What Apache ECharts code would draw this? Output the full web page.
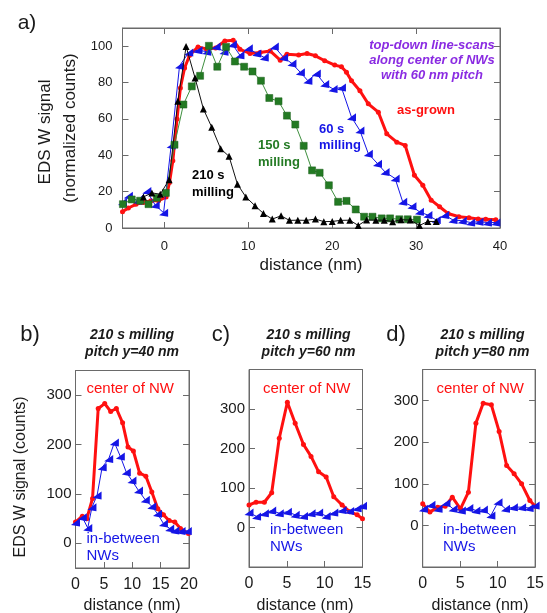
<!DOCTYPE html>
<html><head><meta charset="utf-8">
<script src="https://cdn.jsdelivr.net/npm/echarts@6/dist/echarts.min.js"></script>
<style>html,body{margin:0;padding:0;background:#fff}#c{width:547px;height:613px}</style>
</head><body><div id="c"></div>
<script>
// ---- panel a: normalized W signal vs distance ----
const aAsGrown = [[-5,9],[-4.3,11],[-3.4,13],[-2.5,14],[-1.6,15],[-0.7,15],[0.2,17],[0.6,25],[1.0,37],[1.5,60],[1.9,77],[2.4,88],[3.0,95],[4.0,99.6],[5.0,98.5],[6.1,99],[7.2,102.9],[8.2,103.3],[9.0,98.3],[10.2,96],[11.4,96.5],[12.6,97.4],[13.8,92.3],[14.6,95.6],[16.0,95.2],[17.0,96],[18.0,94.7],[19.1,92],[20.3,89.6],[21.1,88.7],[21.7,85.6],[22.3,81],[23.3,75.5],[24.3,68.3],[25.5,63.7],[26.5,51.8],[27.7,47.2],[28.7,45.4],[29.8,29],[30.8,23.5],[31.8,15.3],[32.8,11.7],[33.8,8],[35.1,6.2],[36.3,5.6],[37.4,5],[38.3,4.8],[39.5,4.5]];
const a60s = [[-5,14],[-4.3,17.7],[-3.2,15],[-2.1,20.3],[-1.1,12.6],[-0.1,8.4],[0.8,45.4],[1.8,89.2],[2.9,96.5],[4.0,97.8],[5.05,97],[6.15,99.8],[7.1,97],[8.1,101],[9.0,95],[10,98.9],[11,96],[11.9,93.8],[13.1,99.8],[14.2,93.8],[15.2,90.5],[16.2,85.6],[17.1,81],[18.1,85],[19.1,79.2],[20.1,76.5],[21.1,77.3],[22.3,60.9],[23.3,53.6],[24.3,40.9],[25.4,35.4],[26.3,30.8],[27.5,27.2],[28.4,14.4],[29.5,12],[30.4,8.9],[31.4,7.1],[32.4,4.4],[33.4,7.1],[34.4,4.4],[35.5,4],[36.5,3],[37.5,3.5],[38.5,3],[39.5,3]];
const a150s = [[-4.95,13.1],[-3.9,15.7],[-2.9,15],[-1.9,13.1],[-0.9,16.6],[0.17,19.3],[1.2,45.8],[2.26,67.9],[3.26,77.9],[4.25,83.7],[5.3,100.2],[6.3,88.7],[7.35,99.6],[8.4,91.6],[9.5,88.7],[10.5,86.1],[11.5,81],[12.5,71.5],[13.6,69.7],[14.6,61.8],[15.6,56.9],[16.6,45.2],[17.6,31.7],[18.5,30.4],[19.6,23.5],[20.7,14.4],[21.7,14.9],[22.8,10.2],[23.8,6.2],[24.8,6.2],[25.9,5.3],[26.9,5.3],[28,4.8],[29,4.8],[30.1,4.6]];
const a210s = [[-2.5,17.1],[-1.5,19.3],[-0.5,18.6],[0.56,26.6],[1.6,69.7],[2.58,99.8],[3.65,82.5],[4.64,65.5],[5.64,55.4],[6.7,43.6],[7.7,39.4],[8.7,24.1],[9.7,17.1],[10.8,12.2],[11.8,8],[12.85,4.9],[13.9,6.7],[14.9,4.2],[15.9,4.3],[16.9,4.2],[18,4.9],[19,3.5],[20,3.6],[21,4.2],[22.1,4.3],[23.1,1.4],[24.1,4.4],[25.2,4.3],[26.2,4.3],[27.2,3.5],[28.2,4.5],[29.3,4.4],[30.4,1.4],[31.4,3.6],[32.4,3.6]];
const aXTicks = [0,10,20,30,40];
const aYTicks = [0,20,40,60,80,100];

// ---- panel b: pitch 40 nm ----
const bCenter = [[0,43],[1.2,55],[2.0,50],[3.0,91],[4.0,273],[5.15,283],[6.2,267],[7.2,273],[8.3,244],[9.25,195],[10.2,187],[11.3,142],[12.4,136],[13.45,104],[14.5,70],[15.5,58],[16.5,46],[17.5,43],[18.5,30],[19.9,20]];
const bBetween = [[0,42],[1.2,53],[2.16,31],[2.9,73],[3.8,97],[4.7,154],[5.85,171],[6.85,204],[7.9,176],[8.95,144],[9.95,127],[11.1,107],[12.3,88],[13.45,75],[14.45,60],[15.5,40],[16.6,30],[17.5,26],[18.6,25],[19.7,25]];
const bXTicks = [0,5,10,15,20];

// ---- panel c: pitch 60 nm ----
const cCenter = [[0,57],[0.93,64],[2.03,64],[3.0,88],[4.0,226],[5.07,317],[6.1,264],[7.2,210],[8.2,180],[9.2,141],[10.2,128],[11.2,78],[12.3,57],[13.3,40],[14.3,32],[15,22]];
const cBetween = [[0,38],[1.0,28],[2.03,36],[3.0,43],[4.0,36],[5.07,40],[6.1,32],[7.2,29],[8.2,36],[9.2,38],[10.2,29],[11.2,38],[12.3,44],[13.3,42],[14.3,49],[15,55]];

// ---- panel d: pitch 80 nm ----
const dCenter = [[0,52],[0.96,32],[2,44],[3,46],[3.95,68],[5.04,40],[6.1,80],[7.1,246],[8.07,294],[9.16,290],[10.2,226],[11.2,144],[12.2,124],[13.2,100],[14.3,60],[15,46]];
const dBetween = [[0.1,40],[1.1,50],[2.05,40],[3.1,54],[4.05,40],[5.15,36],[6.15,42],[7.1,36],[8.1,38],[9.1,24],[10.05,56],[11.05,40],[12.1,44],[13.2,44],[14.2,42],[15,48]];
const cdXTicks = [0,5,10,15];
const countTicks = [0,100,200,300];

const FONT = '"Liberation Sans", Arial, sans-serif';
const AX = '#6a6a6a';
const TXT = '#1a1a1a';
const BLUE = '#1515e6';
const RED = '#ff1010';
const GREEN = '#237a23';
const TRI = 'path://M0,8 L10,0 L10,10 Z';

const grids = [
  {left:122.5, top:28, width:377.5, height:200},
  {left:75.5, top:370.5, width:113.5, height:197.5},
  {left:249, top:369.5, width:113.5, height:197.5},
  {left:422.7, top:369.5, width:114, height:197.5}
];
grids.forEach(g => { g.show = true; g.borderColor = AX; g.borderWidth = 1; g.backgroundColor = 'transparent'; });

function xAx(gi, min, max, ticks, fs, margin, pos, labels) {
  return {type:'value', gridIndex:gi, min:min, max:max, position:pos,
    axisLine:{show:true, onZero:false, lineStyle:{color:AX}},
    axisTick:{show:true, inside:true, length:6, lineStyle:{color:AX}, customValues:ticks},
    axisLabel:{show:labels, customValues:ticks, color:TXT, fontSize:fs, fontFamily:FONT, margin:margin},
    splitLine:{show:false}};
}
function yAx(gi, min, max, ticks, fs, margin, pos, labels) {
  return {type:'value', gridIndex:gi, min:min, max:max, position:pos,
    axisLine:{show:true, onZero:false, lineStyle:{color:AX}},
    axisTick:{show:true, inside:true, length:6, lineStyle:{color:AX}, customValues:ticks},
    axisLabel:{show:labels, customValues:ticks, color:TXT, fontSize:fs, fontFamily:FONT, margin:margin},
    splitLine:{show:false}};
}

const xAxis = [
  xAx(0,-5,40,aXTicks,13,12,'bottom',true),
  xAx(1,0,20,bXTicks,16,9,'bottom',true),
  xAx(2,0,15,cdXTicks,16,9,'bottom',true),
  xAx(3,0,15,cdXTicks,16,9,'bottom',true),
  xAx(0,-5,40,aXTicks,13,12,'top',false)
];
const yAxis = [
  yAx(0,0,110,aYTicks,13,10,'left',true),
  yAx(1,-50,350,countTicks,15,4,'left',true),
  yAx(2,-100,400,countTicks,15,4,'left',true),
  yAx(3,-100,375,countTicks,15,4,'left',true),
  yAx(0,0,110,aYTicks,13,10,'right',false),
  yAx(1,-50,350,countTicks,15,4,'right',false),
  yAx(2,-100,400,countTicks,15,4,'right',false),
  yAx(3,-100,375,countTicks,15,4,'right',false)
];

function redSeries(xi, yi, data, w) {
  return {type:'line', xAxisIndex:xi, yAxisIndex:yi, data:data, symbol:'circle', symbolSize:5,
    lineStyle:{color:RED, width:w}, itemStyle:{color:RED}, z:3, silent:true};
}
function blueSeries(xi, yi, data) {
  return {type:'line', xAxisIndex:xi, yAxisIndex:yi, data:data, symbol:TRI, symbolSize:[9,8],
    lineStyle:{color:BLUE, width:1}, itemStyle:{color:BLUE}, z:4, silent:true};
}

const series = [
  redSeries(0,0,aAsGrown,3),
  blueSeries(0,0,a60s),
  {type:'line', xAxisIndex:0, yAxisIndex:0, data:a150s, symbol:'rect', symbolSize:7,
    lineStyle:{color:'#3f8f3f', width:1}, itemStyle:{color:GREEN, borderColor:'#1b5e1b', borderWidth:0.5}, z:5, silent:true},
  {type:'line', xAxisIndex:0, yAxisIndex:0, data:a210s, symbol:'triangle', symbolSize:7,
    lineStyle:{color:'#111', width:1}, itemStyle:{color:'#000'}, z:6, silent:true},
  redSeries(1,1,bCenter,3),
  blueSeries(1,1,bBetween),
  redSeries(2,2,cCenter,3),
  blueSeries(2,2,cBetween),
  redSeries(3,3,dCenter,3),
  blueSeries(3,3,dBetween)
];

function txt(x, y, text, font, fill, align) {
  return {type:'text', x:x, y:y, silent:true,
    style:{text:text, font:font, fill:fill, textAlign:align||'center', textVerticalAlign:'middle'}};
}
function vtxt(x, y, text, font, fill) {
  return {type:'text', x:x, y:y, rotation:Math.PI/2, silent:true,
    style:{text:text, font:font, fill:fill, textAlign:'center', textVerticalAlign:'middle'}};
}
const F = (s, w) => (w||'') + ' ' + s + 'px ' + FONT;
const BI = s => 'italic bold ' + s + 'px ' + FONT;
const B = s => 'bold ' + s + 'px ' + FONT;
const PURPLE = '#8a2be2';

const graphic = [
  txt(27,23,'a)',F(21),TXT),
  vtxt(45,132,'EDS W signal',F(17),TXT),
  vtxt(70,128,'(normalized counts)',F(17),TXT),
  txt(311,265,'distance (nm)',F(17),TXT),
  txt(432,45,'top-down line-scans',BI(13),PURPLE),
  txt(432,60.5,'along center of NWs',BI(13),PURPLE),
  txt(432,75.5,'with 60 nm pitch',BI(13),PURPLE),
  txt(426,110,'as-grown',B(13),RED),
  txt(319,129,'60 s',B(13),BLUE,'left'),
  txt(319,145,'milling',B(13),BLUE,'left'),
  txt(258,145,'150 s',B(13),GREEN,'left'),
  txt(258,162,'milling',B(13),GREEN,'left'),
  txt(192,175,'210 s',B(13),'#000','left'),
  txt(192,192,'milling',B(13),'#000','left'),

  txt(30,335,'b)',F(22),TXT),
  txt(132,335,'210 s milling',BI(14),TXT),
  txt(132,352,'pitch y=40 nm',BI(14),TXT),
  vtxt(21,477,'EDS W signal (counts)',F(16),TXT),
  txt(86.5,389,'center of NW',F(15),RED,'left'),
  txt(86.5,539,'in-between',F(15),BLUE,'left'),
  txt(86.5,556,'NWs',F(15),BLUE,'left'),
  txt(132,606,'distance (nm)',F(16),TXT),

  txt(221,335,'c)',F(22),TXT),
  txt(308.5,335,'210 s milling',BI(14),TXT),
  txt(308.5,352,'pitch y=60 nm',BI(14),TXT),
  txt(263,389,'center of NW',F(15),RED,'left'),
  txt(270,530,'in-between',F(15),BLUE,'left'),
  txt(270,547,'NWs',F(15),BLUE,'left'),
  txt(305,606,'distance (nm)',F(16),TXT),

  txt(396,335,'d)',F(22),TXT),
  txt(482.5,335,'210 s milling',BI(14),TXT),
  txt(482.5,352,'pitch y=80 nm',BI(14),TXT),
  txt(436.5,389,'center of NW',F(15),RED,'left'),
  txt(443,530,'in-between',F(15),BLUE,'left'),
  txt(443,547,'NWs',F(15),BLUE,'left'),
  txt(480,606,'distance (nm)',F(16),TXT)
];

const chart = echarts.init(document.getElementById('c'), null, {renderer:'canvas'});
chart.setOption({animation:false, backgroundColor:'#fff', grid:grids, xAxis:xAxis, yAxis:yAxis, series:series, graphic:graphic});
</script>
</body></html>
